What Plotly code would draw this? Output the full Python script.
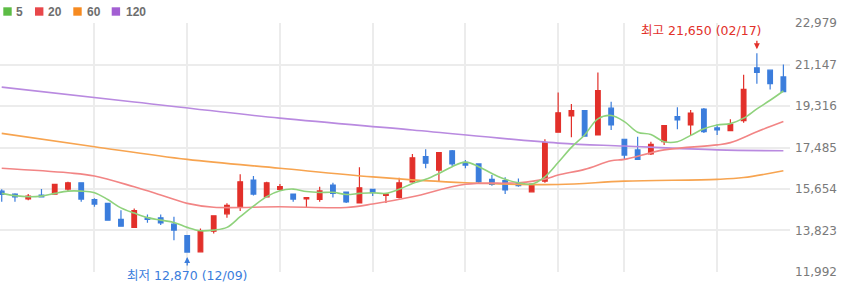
import plotly.graph_objects as go

# ---------------- data ----------------
opens = [15560, 15430, 15220, 15380, 15430, 15650, 15930, 15190, 15020, 14310,
         13960, 14380, 14380, 14100, 13600, 12880, 13790, 14560, 14880, 16050,
         15310, 15640, 15430, 15220, 15190, 15830, 15520, 15040, 15640, 15370,
         15280, 15970, 17080, 16490, 17340, 16830, 16760, 16080, 16020, 15930,
         15530, 16000, 18160, 18880, 19110, 18040, 19220, 17850, 17380, 17200,
         17740, 18850, 18480, 19180, 18350, 18230, 18670, 21000, 20900, 20600]
highs = [15640, 15470, 15430, 15650, 15860, 15970, 15930, 15250, 15040, 14720,
         14790, 14530, 14530, 14430, 13600, 13910, 14470, 15020, 16310, 16230,
         15970, 15870, 15430, 15280, 15750, 15930, 15520, 16610, 15640, 15430,
         16150, 17200, 17410, 17260, 17380, 16930, 16760, 16270, 16170, 16120,
         15870, 17850, 19910, 19410, 19110, 20800, 19510, 17850, 17960, 17740,
         18450, 19260, 19140, 19230, 18510, 18730, 20700, 21650, 20900, 21150]
lows = [15090, 15090, 15160, 15280, 15430, 15570, 15090, 14870, 14250, 14000,
        13960, 14160, 14060, 13390, 12870, 12870, 13690, 14380, 14680, 15370,
        15280, 15570, 15090, 14840, 15090, 15280, 15040, 15040, 15340, 15040,
        15240, 15930, 16570, 15970, 16670, 16570, 15900, 15800, 15430, 15750,
        15500, 15930, 18160, 17940, 17990, 18040, 18260, 16930, 16930, 17150,
        17600, 18290, 18040, 18130, 18040, 18200, 18580, 20300, 20050, 19950]
closes = [15420, 15310, 15340, 15300, 15860, 15930, 15210, 14990, 14280, 14010,
          14700, 14310, 14160, 13840, 12870, 13810, 14470, 14930, 15970, 15430,
          15930, 15760, 15210, 15270, 15570, 15460, 15090, 15710, 15490, 15430,
          15930, 17030, 16790, 17260, 16760, 16710, 15970, 15860, 15610, 15800,
          15870, 17700, 19020, 19110, 17990, 20000, 18480, 17150, 16960, 17620,
          18450, 18700, 19000, 18180, 18260, 18510, 20050, 20800, 20300, 19950]

ma5 = [15460, 15360, 15310, 15340, 15460, 15560, 15560, 15490, 15190, 14820,
       14590, 14390, 14280, 14180, 13960, 13810, 13840, 13960, 14430, 14900,
       15320, 15580, 15650, 15540, 15500, 15510, 15410, 15460, 15490, 15460,
       15640, 15900, 16080, 16340, 16640, 16840, 16640, 16340, 16080, 15930,
       15870, 16190, 16820, 17490, 18040, 18750, 18900, 18630, 18160, 18060,
       17740, 17740, 18020, 18310, 18480, 18540, 18780, 19190, 19570, 19980]

ma20_idx = [0, 5, 7, 10, 12, 14, 16, 21, 26, 28, 31, 35, 39, 41, 42, 44, 46, 47,
            50, 54, 55, 57, 59]
ma20 = [16570, 16370, 16230, 15750, 15390, 15020, 14850, 14870, 14840, 14990,
        15310, 15860, 15930, 16090, 16270, 16520, 16900, 16960, 17380, 17600,
        17700, 18180, 18630]

ma60_idx = [0, 7, 14, 21, 28, 35, 42, 47, 54, 56, 59]
ma60 = [18110, 17520, 16960, 16570, 16190, 15930, 15850, 16000, 16080, 16160, 16460]

ma120_idx = [0, 10, 21, 31, 42, 47, 54, 59]
ma120 = [20150, 19490, 18780, 18260, 17680, 17550, 17380, 17340]

ma_labels = ["5", "20", "60", "120"]
y_ticks = [11992, 13823, 15654, 17485, 19316, 21147, 22979]
grid_idx = [7, 14, 21, 28, 35, 42, 47, 54]

hi_idx, hi_val, hi_text = 57, 21650, "최고 21,650 (02/17)"
lo_idx, lo_val, lo_text = 14, 12870, "최저 12,870 (12/09)"

# ---------------- styling ----------------
RED = "#e2302a"
BLUE = "#3b7ddc"
MA_LINE = ["#8fd27c", "#f28585", "#f7a450", "#b98ae0"]
MA_LEG = ["#5cbc45", "#e8474a", "#f68a20", "#a35fd3"]
GRID = "#ececec"
FONT = "DejaVu Sans, Noto Sans CJK KR"

x = list(range(len(opens)))

fig = go.Figure()

fig.add_trace(go.Scatter(x=ma120_idx, y=ma120, mode="lines",
                         line=dict(color=MA_LINE[3], width=1.6, shape="spline"),
                         hoverinfo="skip", showlegend=False))
fig.add_trace(go.Scatter(x=ma60_idx, y=ma60, mode="lines",
                         line=dict(color=MA_LINE[2], width=1.6, shape="spline"),
                         hoverinfo="skip", showlegend=False))
fig.add_trace(go.Scatter(x=ma20_idx, y=ma20, mode="lines",
                         line=dict(color=MA_LINE[1], width=1.6, shape="spline"),
                         hoverinfo="skip", showlegend=False))
fig.add_trace(go.Scatter(x=x, y=ma5, mode="lines",
                         line=dict(color=MA_LINE[0], width=1.6, shape="spline"),
                         hoverinfo="skip", showlegend=False))

fig.add_trace(go.Candlestick(
    x=x, open=opens, high=highs, low=lows, close=closes,
    increasing=dict(line=dict(color=RED, width=1.2), fillcolor=RED),
    decreasing=dict(line=dict(color=BLUE, width=1.2), fillcolor=BLUE),
    whiskerwidth=0, showlegend=False, hoverinfo="skip"))

# legend (colored squares + labels)
leg_sq_x = [3.3, 35, 73.3, 111.7]
leg_tx_x = [14, 45.5, 84.5, 123.5]
for i, lab in enumerate(ma_labels):
    fig.add_shape(type="rect", xref="paper", yref="paper",
                  xsizemode="pixel", ysizemode="pixel", xanchor=0, yanchor=1,
                  x0=leg_sq_x[i], x1=leg_sq_x[i] + 8.4, y0=7.3, y1=15.7,
                  fillcolor=MA_LEG[i], line=dict(width=0))
    fig.add_annotation(xref="paper", yref="paper", x=0, y=1, xanchor="left",
                       yanchor="middle", xshift=leg_tx_x[i], yshift=11.5,
                       text=f"<b>{lab}</b>", showarrow=False,
                       font=dict(family="Liberation Sans", size=12, color="#6e6e6e"))

# high / low markers
fig.add_annotation(x=hi_idx, y=hi_val, text="", showarrow=True, ax=0, ay=-14,
                   standoff=4, arrowhead=2, arrowsize=0.9, arrowwidth=1.3,
                   arrowcolor=RED)
fig.add_annotation(x=hi_idx, y=hi_val, text=hi_text, showarrow=False,
                   xanchor="right", yanchor="middle", xshift=6, yshift=22.4,
                   font=dict(family=FONT, size=12.5, color=RED))
fig.add_annotation(x=lo_idx, y=lo_val, text="", showarrow=True, ax=0, ay=15,
                   standoff=5, arrowhead=2, arrowsize=0.9, arrowwidth=1.3,
                   arrowcolor=BLUE)
fig.add_annotation(x=lo_idx, y=lo_val, text=lo_text, showarrow=False,
                   xanchor="center", yanchor="middle", yshift=-23,
                   font=dict(family=FONT, size=12.5, color=BLUE))

fig.update_layout(
    width=843, height=283,
    margin=dict(l=0, r=53, t=23, b=11),
    paper_bgcolor="white", plot_bgcolor="white",
    showlegend=False,
    boxgap=0.5,
    xaxis=dict(range=[-0.13, 59.5], tickvals=grid_idx, showticklabels=False,
               showgrid=True, gridcolor=GRID, gridwidth=1.5, zeroline=False,
               ticks="", rangeslider=dict(visible=False), fixedrange=True),
    yaxis=dict(range=[y_ticks[0] - 1, y_ticks[-1] + 1], side="right",
               tickvals=y_ticks, ticktext=[f"{v:,}" for v in y_ticks],
               showgrid=True, gridcolor=GRID, gridwidth=1.5, zeroline=False,
               ticks="", ticklabelstandoff=4,
               tickfont=dict(family="DejaVu Sans", size=12, color="#7a7a7a"),
               fixedrange=True),
)

fig.write_html("out.html", config={"displayModeBar": False},
               post_script="document.body.style.margin='0';"
                           "document.body.style.overflow='hidden';")
